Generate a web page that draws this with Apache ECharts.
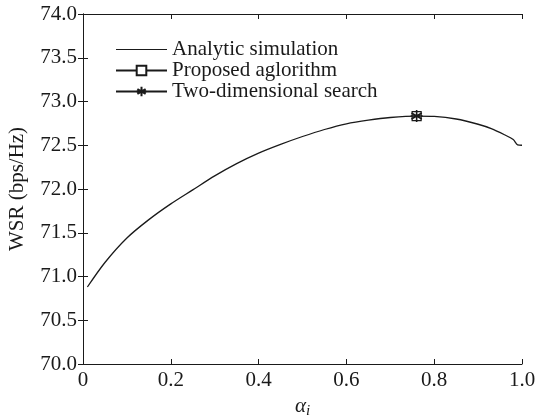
<!DOCTYPE html>
<html>
<head>
<meta charset="utf-8">
<script src="https://cdn.jsdelivr.net/npm/echarts@6/dist/echarts.min.js"></script>
<style>html,body{margin:0;padding:0;background:#fff;}#c{width:540px;height:417px;}</style>
</head>
<body>
<div id="c"></div>
<script>
const alphaVals = [0.01,0.05,0.10,0.15,0.20,0.25,0.30,0.35,0.40,0.45,0.50,0.55,0.60,0.65,0.70,0.76,0.80,0.85,0.90,0.93,0.96,0.98,0.99,1.00];
const wsrVals   = [70.88,71.16,71.44,71.65,71.83,71.99,72.15,72.29,72.41,72.51,72.60,72.68,72.745,72.787,72.817,72.834,72.83,72.80,72.74,72.69,72.62,72.565,72.505,72.50];
const proposedPoint = [0.76, 72.834];
const searchPoint = [0.76, 72.834];
const seriesNames = ['Analytic simulation','Proposed aglorithm','Two-dimensional search'];

const FONT = '"Liberation Serif", "Times New Roman", serif';
const INK = '#1a1a1a';
const asterisk = 'path://M5,0L5,10M0.7,2.5L9.3,7.5M9.3,2.5L0.7,7.5M0,5L10,5';
const plainLine = 'path://M0,0L0.01,0L0,0.01ZM0,5.4L51,5.4L51,6.6L0,6.6ZM51,12L50.99,12L51,11.99Z';

const chart = echarts.init(document.getElementById('c'), null, {renderer:'canvas'});
const axisLine = {show:true, lineStyle:{color:INK, width:1}};
const tickIn = {show:true, inside:true, length:5, lineStyle:{color:INK, width:1}};
chart.setOption({
  animation:false,
  backgroundColor:'#fff',
  grid:{left:83, right:18, top:14, bottom:53, containLabel:false, outerBoundsMode:'none'},
  legend:{
    orient:'vertical', left:110, top:34, itemGap:0, itemWidth:51, itemHeight:12,
    data:[{name:seriesNames[0], icon:plainLine, itemStyle:{color:INK}}, seriesNames[1], seriesNames[2]],
    textStyle:{fontFamily:FONT, fontSize:21, lineHeight:17, color:INK},
    selectedMode:false
  },
  xAxis:[{
    type:'value', min:0, max:1, interval:0.2,
    axisLine:axisLine, axisTick:tickIn, splitLine:{show:false},
    axisLabel:{fontFamily:FONT, fontSize:21, color:INK, margin:6,
      formatter:v=> v===0 ? '0' : v.toFixed(1)},
    name:'{a|α}{s|i}', nameLocation:'middle', nameGap:28,
    nameTextStyle:{rich:{
      a:{fontFamily:FONT, fontStyle:'italic', fontSize:21, color:INK},
      s:{fontFamily:FONT, fontStyle:'italic', fontSize:15, color:INK, padding:[10,0,0,0]}
    }}
  },{
    type:'value', min:0, max:1, interval:0.2, position:'top',
    axisLine:axisLine, axisTick:tickIn, axisLabel:{show:false}, splitLine:{show:false}
  }],
  yAxis:[{
    type:'value', min:70, max:74, interval:0.5,
    axisLine:axisLine, axisTick:tickIn, splitLine:{show:false},
    axisLabel:{fontFamily:FONT, fontSize:21, color:INK, margin:6, formatter:v=>v.toFixed(1)},
    name:'WSR (bps/Hz)', nameLocation:'middle', nameGap:55,
    nameTextStyle:{fontFamily:FONT, fontSize:21, color:INK}
  },{
    type:'value', min:70, max:74, interval:0.5, position:'right',
    axisLine:axisLine, axisTick:tickIn, axisLabel:{show:false}, splitLine:{show:false}
  }],
  series:[{
    name:seriesNames[0], type:'line', smooth:0.3, symbol:'none',
    lineStyle:{color:INK, width:1.3}, itemStyle:{color:INK},
    data:alphaVals.map((a,i)=>[a, wsrVals[i]])
  },{
    name:seriesNames[1], type:'line', symbol:'rect', symbolSize:9, showSymbol:true,
    lineStyle:{color:INK, width:1.2},
    itemStyle:{color:'#fff', borderColor:INK, borderWidth:1.2},
    data:[proposedPoint], z:3
  },{
    name:seriesNames[2], type:'line', symbol:asterisk, symbolSize:12, showSymbol:true,
    lineStyle:{color:INK, width:1.2},
    itemStyle:{color:'none', borderColor:INK, borderWidth:1.6},
    data:[searchPoint], z:4
  }]
});
</script>
</body>
</html>
